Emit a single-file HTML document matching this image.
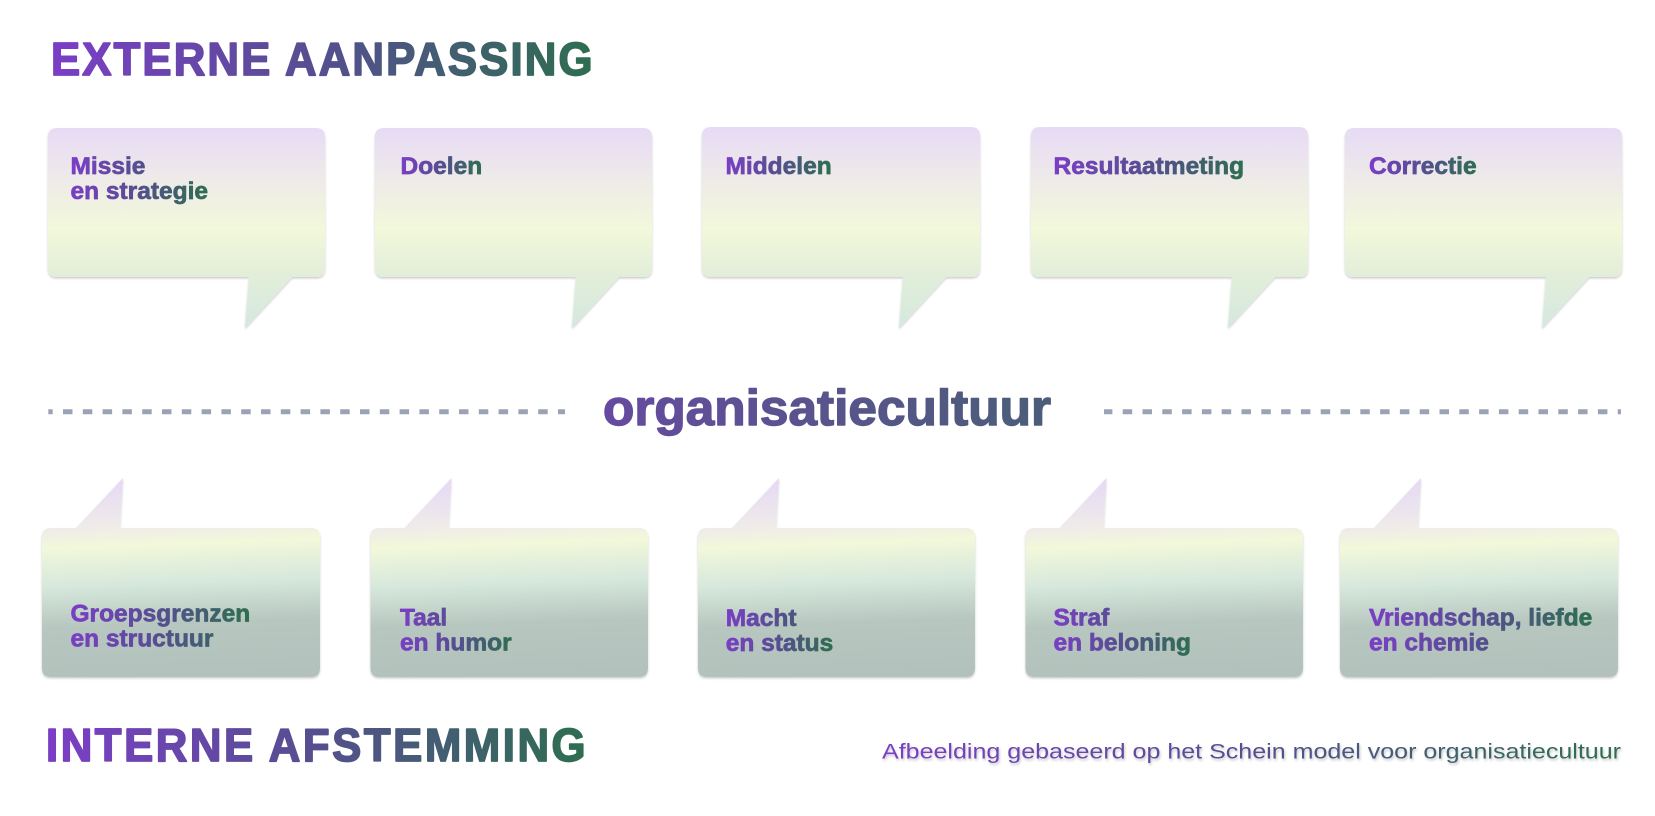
<!DOCTYPE html>
<html>
<head>
<meta charset="utf-8">
<style>
  html, body { margin: 0; padding: 0; background: #ffffff; }
  body { width: 1655px; height: 816px; overflow: hidden; }
  svg { display: block; }
  text { font-family: "Liberation Sans", "DejaVu Sans", sans-serif; }
</style>
</head>
<body>
<svg width="1655" height="816" viewBox="0 0 1655 816" xmlns="http://www.w3.org/2000/svg">
  <defs>
    <linearGradient id="gTop" x1="0.5" y1="0" x2="0.5" y2="1">
      <stop offset="0" stop-color="#e7dbf6"/>
      <stop offset="0.3" stop-color="#efede6"/>
      <stop offset="0.5" stop-color="#f2f8da"/>
      <stop offset="0.74" stop-color="#e2eeda"/>
      <stop offset="1" stop-color="#d4e8de"/>
    </linearGradient>
    <linearGradient id="gBot" x1="0.475" y1="0" x2="0.525" y2="1">
      <stop offset="0" stop-color="#e6d9f6"/>
      <stop offset="0.24" stop-color="#efece8"/>
      <stop offset="0.33" stop-color="#f2f8da"/>
      <stop offset="0.52" stop-color="#d7e8dc"/>
      <stop offset="0.73" stop-color="#b7c7c0"/>
      <stop offset="1" stop-color="#b2c1bb"/>
    </linearGradient>
    <linearGradient id="gText" x1="0" y1="0" x2="1" y2="0">
      <stop offset="0" stop-color="#7b3ec6"/>
      <stop offset="0.5" stop-color="#554f8f"/>
      <stop offset="1" stop-color="#2e6e50"/>
    </linearGradient>
    <linearGradient id="gOrg" x1="0" y1="0" x2="1" y2="0">
      <stop offset="0" stop-color="#664aa0"/>
      <stop offset="1" stop-color="#4a5e78"/>
    </linearGradient>
    <filter id="sh" x="-5%" y="-5%" width="110%" height="115%">
      <feDropShadow dx="0" dy="1.5" stdDeviation="1.1" flood-color="#000" flood-opacity="0.2"/>
    </filter>
    <filter id="tsh" x="-2%" y="-30%" width="104%" height="160%">
      <feDropShadow dx="1" dy="2" stdDeviation="1.3" flood-color="#000" flood-opacity="0.22"/>
    </filter>
  </defs>

  <!-- Titles -->
  <g transform="translate(51,75) scale(0.94,1)">
    <text x="0" y="0" font-size="46.5" font-weight="700" fill="url(#gText)" stroke="url(#gText)" stroke-width="1.7" stroke-linejoin="round" textLength="576" lengthAdjust="spacing">EXTERNE AANPASSING</text>
  </g>
  <g transform="translate(46,761) scale(0.94,1)">
    <text x="0" y="0" font-size="46.5" font-weight="700" fill="url(#gText)" stroke="url(#gText)" stroke-width="1.7" stroke-linejoin="round" textLength="574" lengthAdjust="spacing">INTERNE AFSTEMMING</text>
  </g>

  <!-- Top speech bubbles -->
  <g filter="url(#sh)" fill="url(#gTop)">
    <path d="M57,128 H316 Q325,128 325,137 V268 Q325,277 316,277 H292 L245,328 L249,277 H57 Q48,277 48,268 V137 Q48,128 57,128 Z"/>
    <path d="M384,128 H643 Q652,128 652,137 V268 Q652,277 643,277 H619 L572,328 L576,277 H384 Q375,277 375,268 V137 Q375,128 384,128 Z"/>
    <path d="M711,127 H971 Q980,127 980,136 V268 Q980,277 971,277 H946 L899,328 L903,277 H711 Q702,277 702,268 V136 Q702,127 711,127 Z"/>
    <path d="M1040,127 H1299 Q1308,127 1308,136 V268 Q1308,277 1299,277 H1275 L1228,328 L1232,277 H1040 Q1031,277 1031,268 V136 Q1031,127 1040,127 Z"/>
    <path d="M1354,128 H1613 Q1622,128 1622,137 V268 Q1622,277 1613,277 H1589 L1542,328 L1546,277 H1354 Q1345,277 1345,268 V137 Q1345,128 1354,128 Z"/>
  </g>

  <!-- Top texts -->
  <g font-size="24.5" font-weight="700" stroke-width="0.7" stroke-linejoin="round">
    <text fill="url(#gText)" stroke="url(#gText)"><tspan x="70.5" y="174">Missie</tspan><tspan x="70.5" y="199">en strategie</tspan></text>
    <text x="400.5" y="174" fill="url(#gText)" stroke="url(#gText)">Doelen</text>
    <text x="725.5" y="174" fill="url(#gText)" stroke="url(#gText)">Middelen</text>
    <text x="1053.5" y="174" fill="url(#gText)" stroke="url(#gText)">Resultaatmeting</text>
    <text x="1369" y="174" fill="url(#gText)" stroke="url(#gText)">Correctie</text>
  </g>

  <!-- Dashed line & center label -->
  <g stroke="#9ca2b6" stroke-width="5" fill="none">
    <line x1="48.3" y1="411.7" x2="565" y2="411.7" stroke-dasharray="9.5 10.3" stroke-dashoffset="5.1"/>
    <line x1="1104" y1="411.7" x2="1621" y2="411.7" stroke-dasharray="9.5 10.3" stroke-dashoffset="1.1"/>
  </g>
  <text x="603" y="425" font-size="50" font-weight="700" fill="url(#gOrg)" stroke="url(#gOrg)" stroke-width="1.4" stroke-linejoin="round" textLength="448" lengthAdjust="spacingAndGlyphs">organisatiecultuur</text>

  <!-- Bottom speech bubbles -->
  <g filter="url(#sh)" fill="url(#gBot)">
    <path d="M51,528 H76 L123,478 L120,528 H311 Q320,528 320,537 V668 Q320,677 311,677 H51 Q42,677 42,668 V537 Q42,528 51,528 Z"/>
    <path d="M379.5,528 H404.5 L451.5,478 L448.5,528 H639 Q648,528 648,537 V668 Q648,677 639,677 H379.5 Q370.5,677 370.5,668 V537 Q370.5,528 379.5,528 Z"/>
    <path d="M707,528 H732 L779,478 L776,528 H966 Q975,528 975,537 V668 Q975,677 966,677 H707 Q698,677 698,668 V537 Q698,528 707,528 Z"/>
    <path d="M1034.5,528 H1059.5 L1106.5,478 L1103.5,528 H1294 Q1303,528 1303,537 V668 Q1303,677 1294,677 H1034.5 Q1025.5,677 1025.5,668 V537 Q1025.5,528 1034.5,528 Z"/>
    <path d="M1349,528 H1374 L1421,478 L1418,528 H1609 Q1618,528 1618,537 V668 Q1618,677 1609,677 H1349 Q1340,677 1340,668 V537 Q1340,528 1349,528 Z"/>
  </g>

  <!-- Bottom texts -->
  <g font-size="24.5" font-weight="700" stroke-width="0.7" stroke-linejoin="round">
    <text fill="url(#gText)" stroke="url(#gText)"><tspan x="70.5" y="621.5">Groepsgrenzen</tspan><tspan x="70.5" y="646.5">en structuur</tspan></text>
    <text fill="url(#gText)" stroke="url(#gText)"><tspan x="400" y="625.5">Taal</tspan><tspan x="400" y="650.5">en humor</tspan></text>
    <text fill="url(#gText)" stroke="url(#gText)"><tspan x="725.7" y="626">Macht</tspan><tspan x="725.7" y="651">en status</tspan></text>
    <text fill="url(#gText)" stroke="url(#gText)"><tspan x="1053.5" y="625.5">Straf</tspan><tspan x="1053.5" y="650.5">en beloning</tspan></text>
    <text fill="url(#gText)" stroke="url(#gText)"><tspan x="1369" y="625.5">Vriendschap, liefde</tspan><tspan x="1369" y="650.5">en chemie</tspan></text>
  </g>

  <!-- Footer caption -->
  <text x="882" y="758.5" font-size="21" fill="url(#gText)" filter="url(#tsh)" textLength="739" lengthAdjust="spacingAndGlyphs">Afbeelding gebaseerd op het Schein model voor organisatiecultuur</text>
</svg>
</body>
</html>
